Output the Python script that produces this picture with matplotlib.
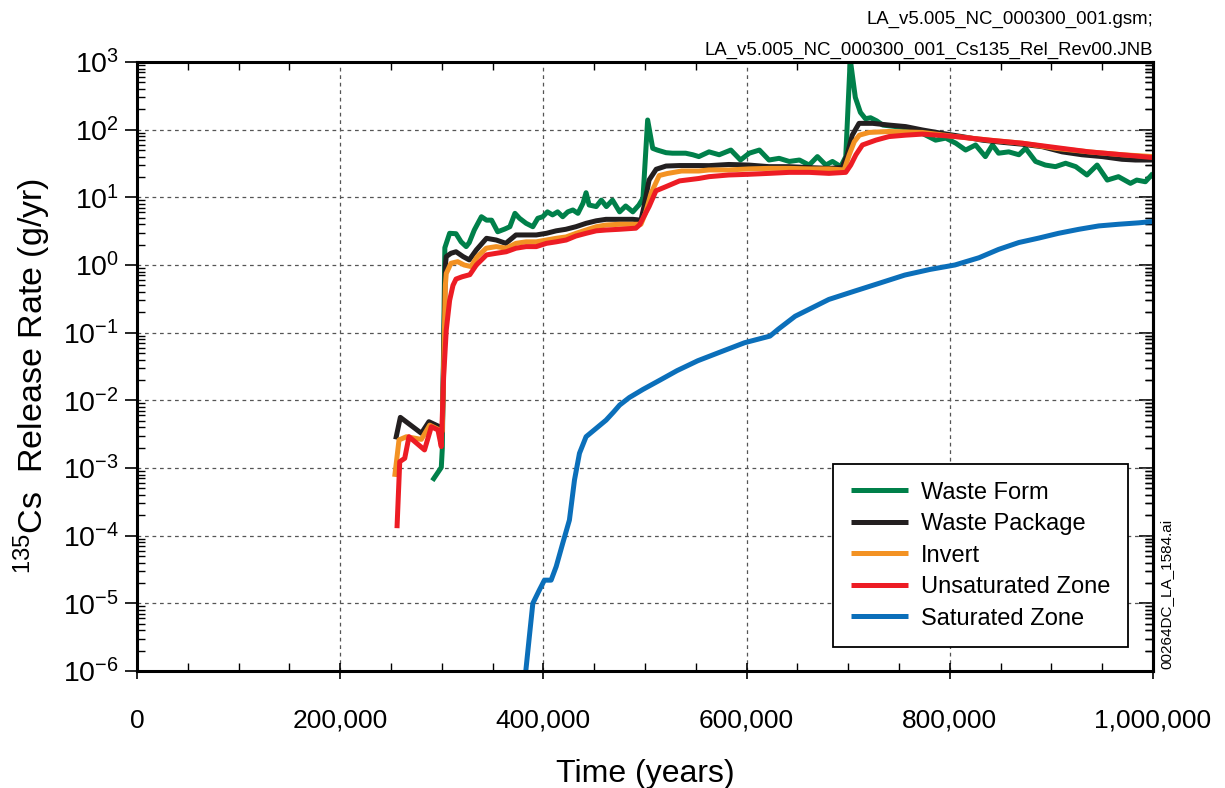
import matplotlib
matplotlib.use("Agg")
import matplotlib.pyplot as plt
import numpy as np
from matplotlib.ticker import FixedLocator, FuncFormatter, LogLocator, NullFormatter, LogFormatterMathtext

plt.rcParams['font.family'] = ['Liberation Sans', 'DejaVu Sans']
plt.rcParams['mathtext.fontset'] = 'custom'
plt.rcParams['mathtext.rm'] = 'Liberation Sans'
plt.rcParams['mathtext.it'] = 'Liberation Sans:italic'
plt.rcParams['mathtext.default'] = 'regular'

# ---- data (time in thousands of years, release rate in g/yr) ----
t_wf = [290.7, 299.5, 300.5, 303, 307.7, 314, 319, 324, 327, 332, 339, 344, 349, 355, 362, 367, 372,
        376.5, 383, 389.6, 394.5, 399.4, 404, 409, 414, 419, 424, 429, 434, 439, 442, 445, 452, 457,
        462, 468, 475, 481, 488, 494, 498, 502.6, 507.6, 512, 520.7, 527, 534, 540, 547, 553, 563,
        573, 584.5, 594, 602.6, 612.6, 622, 632, 642, 652, 661.6, 669.7, 678, 684.5, 692.7, 697.6,
        702, 707, 712, 717, 722, 728, 734, 747, 760, 773, 786, 796, 806, 815.6, 825.4, 835, 842,
        848, 858, 868, 874.6, 884.4, 894, 904, 914, 924, 935, 945, 955, 966, 977.8, 984, 992.5, 1000]
waste_form = [6.5e-4, 1.02e-3, 1.95e-3, 1.8, 2.94, 2.9, 2.2, 1.87, 2.14, 3.29, 5.17, 4.6, 4.6, 3.1,
              3.4, 3.68, 5.8, 4.9, 4.13, 3.68, 4.9, 5.17, 6.1, 5.5, 6.1, 5.17, 6.1, 6.5, 5.8, 8.2,
              11.7, 7.7, 7.3, 9.1, 7.3, 9.1, 6.1, 7.45, 6.1, 7.7, 9.7, 139, 53, 50, 45.7, 44.9, 44.9,
              44.9, 42.6, 40, 47, 42.6, 50, 35.6, 44.9, 50, 35.6, 37.7, 33.9, 35.6, 30, 40, 30, 33.9,
              28.4, 40, 1100, 300, 180, 145, 150, 135, 117, 111, 105, 88, 70, 75, 63, 50, 59.4, 40,
              59.4, 44.9, 47, 42.6, 53, 33.9, 30, 28.4, 31.9, 28.4, 21.4, 30, 18, 20.2, 16.1, 18, 17,
              22.6]

t_wp = [254.6, 259.2, 279.9, 287.3, 297.8, 300.5, 303.5, 304.4, 309, 314, 321, 327, 334, 344, 353.6,
        363, 373, 383, 393, 403, 412.6, 422, 432, 442, 452, 461.6, 475, 488, 496, 499, 504, 511,
        520.7, 534, 553, 563, 582.5, 602, 622, 642, 661.6, 681, 694, 699, 704, 710.7, 724, 740,
        756.6, 773, 792.6, 812, 832, 851.6, 871, 891, 910.6, 930, 950, 969.5, 982.7, 1000]
waste_package = [2.65e-3, 5.6e-3, 3.26e-3, 4.83e-3, 4.07e-3, 3.5e-3, 1.0, 1.33, 1.49, 1.57, 1.33,
                 1.19, 1.67, 2.48, 2.34, 2.09, 2.78, 2.78, 2.78, 2.94, 3.2, 3.37, 3.68, 4.13, 4.5,
                 4.73, 4.73, 4.73, 4.6, 7.3, 18, 26, 29, 29.5, 29.5, 29.4, 30.6, 30, 28.4, 28.4,
                 27.5, 26.8, 27.5, 42.6, 83, 124, 124, 117, 111, 99, 88, 79, 70, 65, 61, 56, 47,
                 42.6, 40, 36.5, 35.6, 35.6]

t_inv = [253.6, 257.9, 265.2, 279.9, 288.1, 297.8, 300.5, 303.5, 304.4, 309, 315.6, 322, 328.6, 335,
         343.7, 353.6, 363.4, 373, 383, 393, 403, 412.6, 422.4, 432.2, 442, 452, 461.7, 475, 488,
         496, 500.4, 506, 514, 522, 536, 553, 563, 582.5, 602, 622, 642, 661.6, 681, 696, 701, 706,
         711, 720.6, 740, 773, 806, 839, 871.6, 904, 937, 969.5, 1000]
invert = [7.4e-4, 2.6e-3, 2.9e-3, 2.65e-3, 4.3e-3, 3.65e-3, 3.5e-3, 0.5, 0.75, 1.06, 1.12, 1.0, 0.95,
          1.33, 1.77, 1.87, 1.77, 2.09, 2.2, 2.2, 2.34, 2.48, 2.6, 2.94, 3.29, 3.68, 3.9, 4.0, 4.0,
          4.0, 5.8, 11.5, 21, 22.5, 24.5, 24.5, 25.4, 25.4, 26.3, 26.8, 26.8, 26.3, 26.3, 25.4,
          42.6, 66.5, 83, 91, 94, 91, 79, 70, 63, 53, 47, 42.6, 40]

t_uz = [255.9, 258.6, 263.5, 267.7, 283, 289.7, 296.2, 299.5, 301.8, 304.4, 307.7, 311, 314, 320,
        327.6, 334, 344, 353.6, 363.4, 373, 383, 393, 403, 412.6, 422.4, 432, 442, 452, 461.7,
        474.6, 491, 494.5, 504, 510.8, 520.7, 534, 553, 563, 582.5, 602, 622, 642, 661.6, 681,
        697.6, 702.5, 707.6, 714, 727.2, 740, 756.6, 773, 792.6, 806, 839, 871.6, 904, 937, 969.5,
        1000]
unsaturated_zone = [1.29e-4, 1.24e-3, 1.39e-3, 2.9e-3, 1.85e-3, 4.07e-3, 3.65e-3, 2.07e-3, 0.022,
                    0.11, 0.30, 0.50, 0.62, 0.67, 0.72, 1.0, 1.41, 1.49, 1.57, 1.77, 1.87, 1.87,
                    2.09, 2.2, 2.34, 2.68, 2.94, 3.2, 3.29, 3.37, 3.5, 3.9, 7.3, 12.5, 14.4, 17.5,
                    19, 20.2, 21.4, 21.9, 22.6, 23.4, 23.4, 22.6, 23.4, 30, 42.6, 59.4, 70, 79, 83,
                    86, 82, 79, 70, 63, 54.5, 47, 42.6, 38.7]

t_sz = [382, 386.5, 389.6, 396, 401, 407.6, 412.6, 419, 425.6, 430.6, 435.5, 442, 452, 461.7, 469,
        475, 484.6, 498, 515, 531.6, 552, 573, 598, 623, 631, 647.8, 681, 706, 731, 755.7, 780.5,
        805, 828.7, 848, 868, 887.6, 907, 927, 946.6, 966, 986, 1000]
saturated_zone = [8e-7, 3.6e-6, 1.0e-5, 1.57e-5, 2.2e-5, 2.2e-5, 3.5e-5, 7.7e-5, 1.7e-4, 6.65e-4,
                  1.65e-3, 2.9e-3, 3.86e-3, 5.1e-3, 6.7e-3, 8.5e-3, 1.1e-2, 1.45e-2, 2.0e-2,
                  2.75e-2, 3.85e-2, 5.1e-2, 7.1e-2, 8.9e-2, 0.112, 0.175, 0.31, 0.41, 0.54, 0.71,
                  0.86, 1.0, 1.28, 1.7, 2.15, 2.5, 2.94, 3.37, 3.78, 4.0, 4.2, 4.4]

labels = ["Waste Form", "Waste Package", "Invert", "Unsaturated Zone", "Saturated Zone"]
colors = ["#00804A", "#231F20", "#F39223", "#ED1C24", "#0B6FBA"]
x_ticks = [0, 200000, 400000, 600000, 800000, 1000000]

# ---- figure ----
W, H = 1225, 788
fig = plt.figure(figsize=(W / 100, H / 100), dpi=100)
ax = fig.add_axes([137 / W, 1 - 671 / H, (1153 - 137) / W, (671 - 62) / H])

series = [(t_wf, waste_form), (t_wp, waste_package), (t_inv, invert),
          (t_uz, unsaturated_zone), (t_sz, saturated_zone)]
handles = []
for (t, v), lab, c in zip(series, labels, colors):
    h, = ax.plot(np.array(t) * 1000, v, color=c, lw=3.6, label=lab,
                 solid_joinstyle='round', solid_capstyle='butt')
    handles.append(h)

ax.set_yscale('log')
ax.set_xlim(0, 1_000_000)
ax.set_ylim(1e-6, 1e3)

ax.xaxis.set_major_locator(FixedLocator(x_ticks))
ax.xaxis.set_minor_locator(FixedLocator(np.arange(0, 1_000_001, 50_000)))
ax.xaxis.set_major_formatter(FuncFormatter(lambda v, p: f"{int(v):,}"))
ax.yaxis.set_major_locator(LogLocator(base=10, numticks=20))
ax.yaxis.set_minor_locator(LogLocator(base=10, subs=np.arange(2, 10), numticks=20))
ax.yaxis.set_major_formatter(LogFormatterMathtext())
ax.yaxis.set_minor_formatter(NullFormatter())

ax.grid(True, which='major', linestyle=(0, (3, 3)), color='#555555', lw=0.9)

ax.tick_params(axis='x', which='major', direction='inout', length=12, width=1.2,
               labelsize=19, pad=21, top=False)
ax.tick_params(axis='x', which='minor', direction='in', length=6, width=1.0, top=True, bottom=True)
ax.tick_params(axis='y', which='major', direction='out', length=9, width=1.2, labelsize=20.5,
               pad=4, right=False)
ax.tick_params(axis='y', which='minor', direction='in', length=6, width=1.0, left=True, right=True)

# right-side inward major ticks
ax2 = ax.secondary_yaxis('right')
ax2.yaxis.set_major_locator(LogLocator(base=10, numticks=20))
ax2.yaxis.set_minor_locator(LogLocator(base=10, subs=np.arange(2, 10), numticks=20))
ax2.tick_params(which='major', direction='in', length=10, width=1.2, labelright=False)
ax2.tick_params(which='minor', direction='in', length=6, width=1.0)
ax2.yaxis.set_major_formatter(NullFormatter())
ax2.yaxis.set_minor_formatter(NullFormatter())
ax2.spines['right'].set_linewidth(2.2)

for s in ax.spines.values():
    s.set_linewidth(2.2)

ax.set_xlabel("Time (years)", fontsize=23, labelpad=19)
ax.set_ylabel("$^{135}$Cs  Release Rate (g/yr)", fontsize=24.5)
ax.yaxis.label.set_verticalalignment('center')
ax.yaxis.set_label_coords(-0.103, 0.484)

leg = ax.legend(handles=handles, loc='lower right', bbox_to_anchor=(0.975, 0.039),
                borderaxespad=0, fontsize=17, handlelength=2.4, handletextpad=0.55,
                labelspacing=0.4, borderpad=0.75, fancybox=False, framealpha=1,
                edgecolor='black')
leg.get_frame().set_linewidth(1.3)

fig.text(1153 / W, 1 - 19 / H, "LA_v5.005_NC_000300_001.gsm;", ha='right', va='center', fontsize=13.4)
fig.text(1153 / W, 1 - 50 / H, "LA_v5.005_NC_000300_001_Cs135_Rel_Rev00.JNB", ha='right',
         va='center', fontsize=13.4)
fig.text(1166 / W, 1 - 594 / H, "00264DC_LA_1584.ai", rotation=90, ha='center', va='center',
         fontsize=11)

fig.savefig("out.png", dpi=100)
